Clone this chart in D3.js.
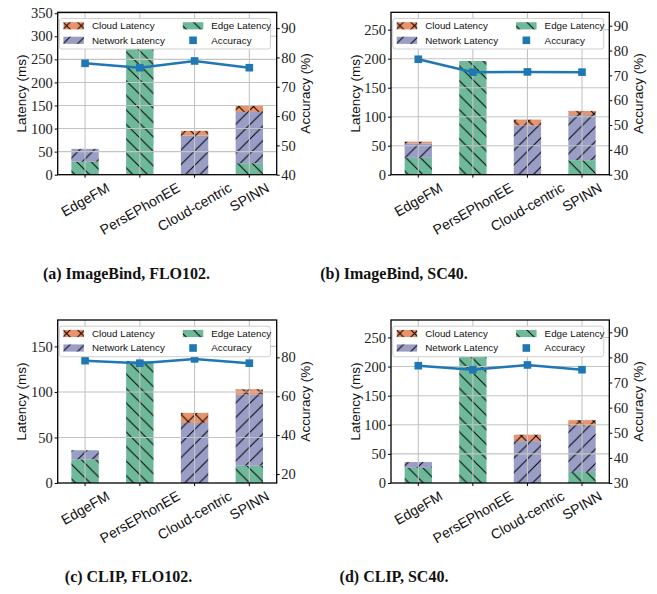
<!DOCTYPE html>
<html>
<head>
<meta charset="utf-8">
<script src="https://cdn.jsdelivr.net/npm/d3@7"></script>
<style>
  body { margin: 0; background: #fff; }
  svg { display: block; }
</style>
</head>
<body>
<div id="fig"></div>
<script>
const categories = ["EdgeFM", "PersEPhonEE", "Cloud-centric", "SPINN"];
const captions = ["(a) ImageBind, FLO102.", "(b) ImageBind, SC40.", "(c) CLIP, FLO102.", "(d) CLIP, SC40."];

const edgeA = [28, 280, 0, 25];
const networkA = [28, 0, 85, 111];
const cloudA = [0, 0, 10, 13];
const accA = [78.0, 76.5, 78.8, 76.5];

const edgeB = [29, 196, 0, 25];
const networkB = [25, 0, 85, 78];
const cloudB = [3, 0, 10, 7];
const accB = [76.5, 71.3, 71.4, 71.3];

const edgeC = [26, 134, 0, 19];
const networkC = [10, 0, 66, 78];
const cloudC = [0, 0, 11, 6];
const accC = [78.3, 77.0, 79.2, 77.0];

const edgeD = [26, 218, 0, 19];
const networkD = [10, 0, 72, 79];
const cloudD = [0, 0, 11, 10];
const accD = [76.7, 75.1, 77.0, 75.1];

const latTicksA = [0, 50, 100, 150, 200, 250, 300, 350];
const latTicksB = [0, 50, 100, 150, 200, 250];
const latTicksC = [0, 50, 100, 150];
const accTicksA = [40, 50, 60, 70, 80, 90];
const accTicksB = [30, 40, 50, 60, 70, 80, 90];
const accTicksC = [20, 40, 60, 80];

const colors = { cloud: "#e9936b", network: "#9a9ec6", edge: "#6fb99b", acc: "#1f77b4" };

const W = 657, H = 594;
const svg = d3.select("#fig").append("svg").attr("width", W).attr("height", H);
const defs = svg.append("defs");

// hatch patterns (matplotlib style: x, / and \)
const hs = 14.5;
function hatch(id, fill, kind) {
  const p = defs.append("pattern").attr("id", id)
    .attr("patternUnits", "userSpaceOnUse").attr("width", hs).attr("height", hs);
  p.append("rect").attr("width", hs).attr("height", hs).attr("fill", fill);
  const fwd = `M0,${hs}L${hs},0M${-hs/2},${hs/2}L${hs/2},${-hs/2}M${hs/2},${hs*1.5}L${hs*1.5},${hs/2}`;
  const back = `M0,0L${hs},${hs}M${-hs/2},${hs/2}L${hs/2},${hs*1.5}M${hs/2},${-hs/2}L${hs*1.5},${hs/2}`;
  const d = kind === "/" ? fwd : kind === "\\" ? back : fwd + back;
  p.append("path").attr("d", d).attr("stroke", "#000").attr("stroke-width", 1).attr("fill", "none");
}
hatch("hCloud", colors.cloud, "x");
hatch("hNet", colors.network, "/");
hatch("hEdge", colors.edge, "\\");

const panels = [
  { edge: edgeA, net: networkA, cloud: cloudA, acc: accA, latMax: 352, accDom: [40, 95.4], latTicks: latTicksA, accTicks: accTicksA,
    left: 57.7, top: 12.3, w: 219, h: 162.4, cap: captions[0], capX: 126.5, capY: 279 },
  { edge: edgeB, net: networkB, cloud: cloudB, acc: accB, latMax: 280, accDom: [30, 95.4], latTicks: latTicksB, accTicks: accTicksB,
    left: 391, top: 12.3, w: 218.3, h: 162.4, cap: captions[1], capX: 394, capY: 279 },
  { edge: edgeC, net: networkC, cloud: cloudC, acc: accC, latMax: 179, accDom: [15.4, 99.2], latTicks: latTicksC, accTicks: accTicksC,
    left: 57.7, top: 320, w: 219, h: 163, cap: captions[2], capX: 128.5, capY: 582 },
  { edge: edgeD, net: networkD, cloud: cloudD, acc: accD, latMax: 280, accDom: [30, 94.9], latTicks: latTicksB, accTicks: accTicksB,
    left: 391, top: 320, w: 218.3, h: 163, cap: captions[3], capX: 394, capY: 582 }
];

const serif = "'Liberation Serif', 'Times New Roman', serif";
const sans = "'Liberation Sans', Arial, sans-serif";

panels.forEach(function(P) {
  const g = svg.append("g").attr("transform", `translate(${P.left},${P.top})`);

  const x = d3.scaleBand().domain(categories).range([0, P.w]).paddingInner(0.5).paddingOuter(0.25);
  const xc = function(c) { return x(c) + x.bandwidth() / 2; };
  const y = d3.scaleLinear().domain([0, P.latMax]).range([P.h, 0]);
  const y2 = d3.scaleLinear().domain(P.accDom).range([P.h, 0]);

  const rows = categories.map(function(c, i) {
    return { c: c, edge: P.edge[i], net: P.net[i], cloud: P.cloud[i], acc: P.acc[i] };
  });
  const stack = d3.stack().keys(["edge", "net", "cloud"])(rows);
  const fills = { edge: "url(#hEdge)", net: "url(#hNet)", cloud: "url(#hCloud)" };

  const plot = g.append("g");
  stack.forEach(function(layer) {
    plot.selectAll(null).data(layer.filter(function(d) { return d[1] > d[0]; })).enter().append("rect")
      .attr("x", function(d) { return x(d.data.c); })
      .attr("width", x.bandwidth())
      .attr("y", function(d) { return y(Math.min(d[1], P.latMax)); })
      .attr("height", function(d) { return y(d[0]) - y(Math.min(d[1], P.latMax)); })
      .attr("fill", fills[layer.key]);
  });

  // grid over the bars, under the accuracy line
  const grid = g.append("g").attr("stroke", "#c4c4c4").attr("stroke-width", 1.1);
  grid.selectAll(null).data(P.latTicks.filter(function(t) { return t > 0; })).enter().append("line")
    .attr("x1", 0).attr("x2", P.w).attr("y1", function(t) { return y(t); }).attr("y2", function(t) { return y(t); });
  grid.selectAll(null).data(categories).enter().append("line")
    .attr("x1", xc).attr("x2", xc).attr("y1", 0).attr("y2", P.h);

  // accuracy line
  const line = d3.line().x(function(d) { return xc(d.c); }).y(function(d) { return y2(d.acc); });
  g.append("path").datum(rows).attr("d", line).attr("fill", "none")
    .attr("stroke", colors.acc).attr("stroke-width", 2.5);
  const ms = 7.6;
  g.selectAll(null).data(rows).enter().append("rect")
    .attr("x", function(d) { return xc(d.c) - ms / 2; })
    .attr("y", function(d) { return y2(d.acc) - ms / 2; })
    .attr("width", ms).attr("height", ms).attr("fill", colors.acc);

  // axes
  const yAxis = g.append("g").call(d3.axisLeft(y).tickValues(P.latTicks).tickSize(3).tickPadding(2).tickFormat(d3.format("d")));
  const yAxis2 = g.append("g").attr("transform", `translate(${P.w},0)`)
    .call(d3.axisRight(y2).tickValues(P.accTicks).tickSize(3).tickPadding(1.5).tickFormat(d3.format("d")));
  const xAxis = g.append("g").attr("transform", `translate(0,${P.h})`)
    .call(d3.axisBottom(x).tickSize(3).tickFormat(""));
  [yAxis, yAxis2, xAxis].forEach(function(a) {
    a.select(".domain").remove();
    a.selectAll("line").attr("stroke", "#000").attr("stroke-width", 1);
    a.selectAll("text").attr("font-family", serif).attr("font-size", 14.5).attr("fill", "#222");
  });

  // frame
  g.append("rect").attr("width", P.w).attr("height", P.h).attr("fill", "none")
    .attr("stroke", "#000").attr("stroke-width", 1.3);

  // rotated category labels
  categories.forEach(function(c) {
    const t = g.append("text").attr("font-family", sans).attr("font-size", 14).attr("fill", "#111")
      .attr("text-anchor", "middle").attr("dominant-baseline", "central").text(c);
    const len = t.node().getComputedTextLength();
    const bh = len * 0.5 + 14 * 0.866;
    const cy = P.h + 5.5 + bh / 2;
    t.attr("transform", `translate(${xc(c)},${cy}) rotate(-30)`);
  });

  // axis titles
  g.append("text").attr("font-family", sans).attr("font-size", 13.5).attr("fill", "#111")
    .attr("text-anchor", "middle").attr("dominant-baseline", "central")
    .attr("transform", `translate(${-36},${P.h / 2}) rotate(-90)`).text("Latency (ms)");
  g.append("text").attr("font-family", sans).attr("font-size", 13.5).attr("fill", "#111")
    .attr("text-anchor", "middle").attr("dominant-baseline", "central")
    .attr("transform", `translate(${P.w + 29},${P.h / 2}) rotate(-90)`).text("Accuracy (%)");

  // legend
  const L = g.append("g").attr("transform", "translate(1.7,6.2)");
  L.append("rect").attr("width", 211).attr("height", 30.5).attr("rx", 2.5)
    .attr("fill", "#fff").attr("stroke", "#d0d0d0").attr("stroke-width", 1);
  const items = [
    { label: "Cloud Latency", fill: "url(#hCloud)", col: 0, row: 0 },
    { label: "Network Latency", fill: "url(#hNet)", col: 0, row: 1 },
    { label: "Edge Latency", fill: "url(#hEdge)", col: 1, row: 0 },
    { label: "Accuracy", fill: null, col: 1, row: 1 }
  ];
  items.forEach(function(it) {
    const px = it.col === 0 ? 4 : 123.4;
    const ty = it.row === 0 ? 7.3 : 21.8;
    if (it.fill) {
      L.append("rect").attr("x", px).attr("y", ty - 3.6).attr("width", 20.5).attr("height", 7.2).attr("fill", it.fill);
    } else {
      L.append("rect").attr("x", px + 10.25 - 3.8).attr("y", ty - 3.8).attr("width", 7.6).attr("height", 7.6).attr("fill", colors.acc);
    }
    L.append("text").attr("x", px + 28.5).attr("y", ty).attr("dominant-baseline", "central")
      .attr("font-family", sans).attr("font-size", 9.8).attr("fill", "#111").text(it.label);
  });

  // caption
  svg.append("text").attr("x", P.capX).attr("y", P.capY).attr("text-anchor", "middle")
    .attr("font-family", serif).attr("font-weight", "bold").attr("font-size", 16).attr("fill", "#111")
    .text(P.cap);
});
</script>
</body>
</html>
